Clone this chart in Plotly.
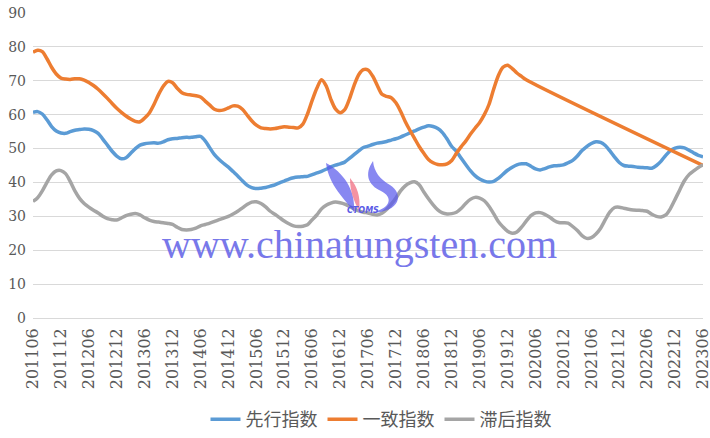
import plotly.graph_objects as go

# Monthly categories 201106 .. 202306
months = []
for y in range(2011, 2024):
    for m in range(1, 13):
        if (y == 2011 and m < 6) or (y == 2023 and m > 6):
            continue
        months.append(f"{y}{m:02d}")

tick_labels = ["201106", "201112", "201206", "201212", "201306", "201312", "201406",
               "201412", "201506", "201512", "201606", "201612", "201706", "201712",
               "201806", "201812", "201906", "201912", "202006", "202012", "202106",
               "202112", "202206", "202212", "202306"]

leading = [60.7, 60.9, 60.2, 58.5, 56.5, 55.2, 54.6, 54.5, 55.0, 55.4, 55.6, 55.8,
           55.7, 55.3, 54.5, 52.8, 51.0, 49.2, 47.8, 47.0, 47.3, 48.6, 50.0, 51.0,
           51.4, 51.6, 51.7, 51.6, 52.0, 52.6, 52.9, 53.0, 53.2, 53.3, 53.3, 53.5,
           53.6, 52.3, 50.2, 48.2, 46.8, 45.6, 44.5, 43.2, 41.9, 40.5, 39.2, 38.5,
           38.2, 38.3, 38.5, 38.9, 39.3, 39.9, 40.4, 41.0, 41.4, 41.6, 41.7, 41.8,
           42.3, 42.8, 43.3, 43.9, 44.6, 45.1, 45.5, 46.0, 47.1, 48.2, 49.3, 50.3,
           50.7, 51.2, 51.6, 51.8, 52.1, 52.5, 52.9, 53.4, 54.0, 54.6, 55.2, 55.8,
           56.3, 56.7, 56.5, 55.9, 54.7, 52.8, 50.6, 49.2, 47.2, 45.3, 43.5, 42.0,
           41.0, 40.4, 40.1, 40.3, 41.2, 42.4, 43.6, 44.5, 45.2, 45.5, 45.5, 44.8,
           44.0, 43.7, 44.1, 44.6, 44.9, 45.0, 45.2, 45.8, 46.5, 47.8, 49.4, 50.6,
           51.5, 52.0, 51.8, 50.9, 49.3, 47.5, 45.9, 45.0, 44.8, 44.7, 44.5, 44.4,
           44.3, 44.2, 45.0, 46.3, 48.0, 49.4, 50.1, 50.4, 50.2, 49.5, 48.7, 48.0,
           47.6]

coincident = [78.4, 79.0, 78.6, 76.5, 74.0, 72.0, 70.8, 70.5, 70.4, 70.6, 70.6, 70.2,
              69.5, 68.6, 67.5, 66.2, 64.8, 63.3, 61.9, 60.7, 59.6, 58.7, 58.0, 57.9,
              59.0, 60.5, 63.0, 66.0, 68.4, 69.8, 69.4, 67.8, 66.5, 66.0, 65.8, 65.6,
              65.2, 64.0, 62.8, 61.6, 61.2, 61.4, 62.0, 62.6, 62.5, 61.6, 59.9, 58.2,
              56.9, 56.1, 55.9, 55.8, 55.9, 56.2, 56.4, 56.3, 56.2, 56.1, 57.2, 60.2,
              64.2, 67.8, 70.3, 68.5, 64.6, 61.7, 60.6, 61.5, 64.6, 68.6, 71.8, 73.3,
              73.2, 71.4, 68.6, 66.0, 65.4, 65.0, 63.5, 61.0, 58.0, 55.4, 53.0, 50.6,
              48.6, 46.8, 45.8, 45.3, 45.2, 45.5, 46.5, 48.6, 50.5, 52.2, 54.2, 56.0,
              57.7, 60.0, 63.0, 67.5, 71.5, 74.0, 74.6, 73.6, 72.3, 71.3, 70.3,
              None, None, None, None, None, None, None, None, None, None, None, None,
              None, None, None, None, None, None, None, None, None, None, None, None,
              None, None, None, None, None, None, None, None, None, None, None, None,
              None, 45.0]

lagging = [34.4, 35.5, 37.5, 40.0, 42.2, 43.4, 43.5, 42.6, 40.3, 37.5, 35.3, 33.8,
           32.7, 31.8, 31.0, 30.0, 29.3, 29.0, 28.9, 29.5, 30.2, 30.6, 30.8, 30.4,
           29.6, 28.9, 28.5, 28.3, 28.1, 27.9, 27.6, 26.8, 26.1, 26.0, 26.1, 26.5,
           27.2, 27.6, 28.0, 28.5, 29.0, 29.5, 30.0, 30.7, 31.5, 32.5, 33.5, 34.2,
           34.3, 33.8, 32.8, 31.5, 30.6, 29.6, 28.6, 27.8, 27.2, 27.0, 27.1, 27.5,
           29.0, 30.4, 32.2, 33.3, 33.9, 34.2, 34.0, 33.6, 32.9, 32.2, 31.6, 31.2,
           31.0, 30.6, 30.4, 30.9, 32.0, 33.6, 35.4, 37.5, 39.0, 39.9, 40.2, 39.3,
           37.2, 35.2, 33.4, 31.9, 31.0, 30.7, 30.8, 31.2, 32.3, 33.8, 35.0, 35.6,
           35.4, 34.6, 33.0, 30.8, 28.5, 26.9, 25.6, 25.0, 25.4, 26.8, 28.6, 30.2,
           31.0, 31.1, 30.6, 29.8, 28.8, 28.2, 28.1, 28.0, 27.0, 25.8, 24.3, 23.5,
           23.7, 24.8, 26.5, 29.0, 31.3, 32.6, 32.7, 32.4, 32.1, 31.9, 31.8, 31.7,
           31.5, 30.6, 30.0, 29.8, 30.4, 32.3, 35.0, 37.8, 40.5, 42.3, 43.4, 44.4,
           45.2]

series_names = ["先行指数", "一致指数", "滞后指数"]
colors = ["#5B9BD5", "#ED7D31", "#A5A5A5"]

# plot-area geometry in pixels
PL, PR, PT, PB = 33, 703, 13, 318


def px(x, y):
    return (x - PL) / (PR - PL), (PB - y) / (PB - PT)


def path(points):
    out = []
    for cmd, pts in points:
        if cmd == "Z":
            out.append("Z")
        else:
            out.append(cmd + " " + " ".join("%.4f,%.4f" % px(*p) for p in pts))
    return " ".join(out)


fig = go.Figure()
for name, vals, col in zip(series_names, [leading, coincident, lagging], colors):
    fig.add_trace(go.Scatter(
        x=months, y=vals, name=name, mode="lines",
        line=dict(color=col, width=3.5, shape="spline", smoothing=0.8),
        connectgaps=True, hoverinfo="skip",
    ))

tick_font = dict(family="DejaVu Serif", size=14, color="#595959")

fig.update_layout(
    template="none",
    width=710, height=438,
    margin=dict(l=PL, r=710 - PR, t=PT, b=438 - PB, autoexpand=False),
    paper_bgcolor="white", plot_bgcolor="white",
    showlegend=True,
    legend=dict(orientation="h", x=(381 - PL) / (PR - PL), xanchor="center",
                yref="container", y=0.0, yanchor="bottom",
                font=dict(family="Noto Sans CJK SC", size=18, color="#595959"),
                itemwidth=30, tracegroupgap=0, bgcolor="rgba(0,0,0,0)"),
    xaxis=dict(type="category", range=[0, len(months) - 1], automargin=False,
               tickmode="array", tickvals=tick_labels, ticktext=tick_labels,
               tickangle=-90, tickfont=dict(family="DejaVu Serif", size=16, color="#595959"),
               showgrid=False, showline=False, ticks="", zeroline=False,
               ticklabelstandoff=6),
    yaxis=dict(range=[0, 90], dtick=10, tickfont=tick_font, automargin=False,
               showgrid=True, gridcolor="#D9D9D9", gridwidth=1,
               zeroline=True, zerolinecolor="#D9D9D9", zerolinewidth=1,
               showline=False, ticks="", ticklabelstandoff=6),
)

# Watermark logo (decorative)
logo_blue = "rgba(90,90,235,0.72)"
logo_pink = "rgba(240,110,130,0.75)"
fig.add_shape(type="path", xref="paper", yref="paper", layer="above", line_width=0,
              fillcolor=logo_blue,
              path=path([("M", [(326, 163)]),
                         ("C", [(343, 172), (356, 190), (354, 212)]),
                         ("C", [(345, 199), (329, 186), (326, 163)]), ("Z", [])]))
fig.add_shape(type="path", xref="paper", yref="paper", layer="above", line_width=0,
              fillcolor=logo_pink,
              path=path([("M", [(350, 178)]),
                         ("C", [(357, 186), (361, 197), (359, 211)]),
                         ("C", [(354, 201), (350, 192), (350, 178)]), ("Z", [])]))
fig.add_shape(type="path", xref="paper", yref="paper", layer="above", line_width=0,
              fillcolor=logo_blue,
              path=path([("M", [(373, 161)]),
                         ("C", [(364, 174), (368, 185), (381, 191)]),
                         ("C", [(393, 197), (392, 208), (371, 213)]),
                         ("C", [(401, 212), (404, 194), (390, 185)]),
                         ("C", [(380, 179), (374, 172), (373, 161)]), ("Z", [])]))

wx, wy = px(359, 244)
fig.add_annotation(
    xref="paper", yref="paper", x=wx, y=wy,
    text="www.chinatungsten.com", showarrow=False,
    font=dict(family="Liberation Serif", size=40, color="#6A6AE8"),
    xanchor="center", yanchor="middle", opacity=0.9, borderpad=0,
)
cx, cy = px(363, 211)
fig.add_annotation(
    xref="paper", yref="paper", x=cx, y=cy,
    text="<b><i>CTOMS</i></b>", showarrow=False,
    font=dict(family="DejaVu Sans", size=8, color="#5A5AE6"),
    xanchor="center", yanchor="middle", borderpad=0,
)

fig.write_html(
    "out.html",
    config={"displayModeBar": False},
    post_script="document.documentElement.style.margin='0';"
                "document.body.style.margin='0';"
                "document.body.style.overflow='hidden';",
)
